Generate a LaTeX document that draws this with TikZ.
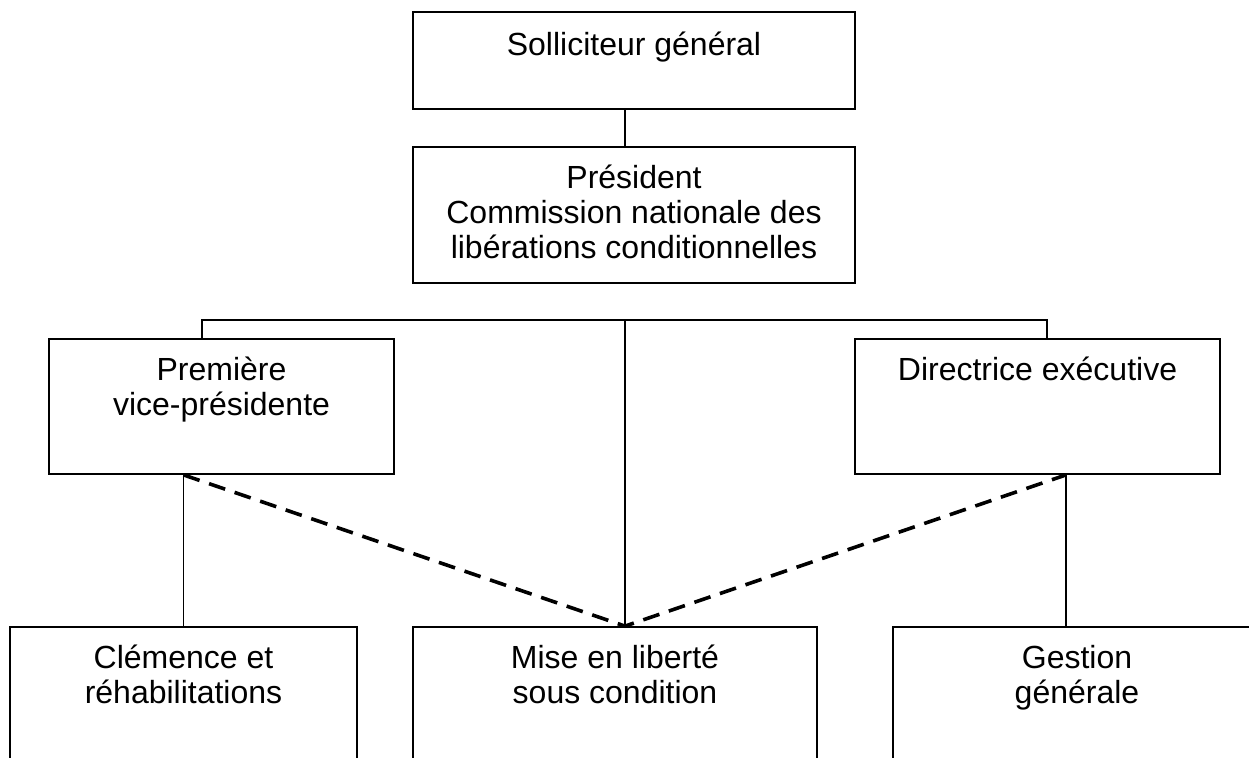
\documentclass[tikz,border=0pt]{standalone}
\usepackage{fontspec}
\setmainfont{Liberation Sans}
\usetikzlibrary{positioning}

\begin{document}
\begin{tikzpicture}[x=1pt,y=-1pt,
  unit/.style={draw, line width=1.8pt, inner sep=0pt},
  caption/.style={align=center, anchor=north, inner sep=0pt, font=\fontsize{32}{35}\selectfont},
  link/.style={line width=1.8pt},
  soft/.style={line width=3.6pt, dash pattern=on 17pt off 10pt}]

\clip (0,0) rectangle (1249,757);

% boxes
\node[unit, minimum width=442pt, minimum height=97pt] (sg) at (634,60.5) {};
\node[unit, minimum width=442pt, minimum height=136pt] (pres) at (634,215) {};
\node[unit, minimum width=345pt, minimum height=135pt] (vp) at (221.5,406.5) {};
\node[unit, minimum width=365pt, minimum height=135pt] (de) at (1037.5,406.5) {};
\node[unit, minimum width=347pt, minimum height=173pt] (cr) at (183.5,713.5) {};
\node[unit, minimum width=404pt, minimum height=173pt] (ml) at (615,713.5) {};
\node[unit, minimum width=368pt, minimum height=173pt] (gg) at (1077,713.5) {};

% texts
\node[caption, below=21pt of sg.north] (sgt) {Solliciteur général};
\node[caption, below=19pt of pres.north] (prest) {Président\\Commission nationale des\\libérations conditionnelles};
\node[caption, below=19pt of vp.north] (vpt) {Première\\vice-présidente};
\node[caption, below=19pt of de.north] (det) {Directrice exécutive};
\node[caption, below=19pt of cr.north] (crt) {Clémence et\\réhabilitations};
\node[caption, below=19pt of ml.north] (mlt) {Mise en liberté\\sous condition};
\node[caption, below=19pt of gg.north] (ggt) {Gestion\\générale};

% connectors
\coordinate (hub) at (625,320);
\coordinate (lft) at (202,320);
\coordinate (rgt) at (1047,320);
\coordinate (gfoot) at (1066,627);

\draw[link] (sg.south -| hub) -- (pres.north -| hub);
\draw[link] (vp.north -| lft) -- (lft) -- (rgt) -- (de.north -| rgt);
\draw[link] (hub) -- (ml.north -| hub);
\draw[link] (vp.south -| cr.north) -- (cr.north);
\draw[link] (de.south -| gfoot) -- (gfoot);

\draw[soft] (vp.south -| cr.north) -- (ml.north -| hub) -- (de.south -| gfoot);

\end{tikzpicture}
\end{document}
